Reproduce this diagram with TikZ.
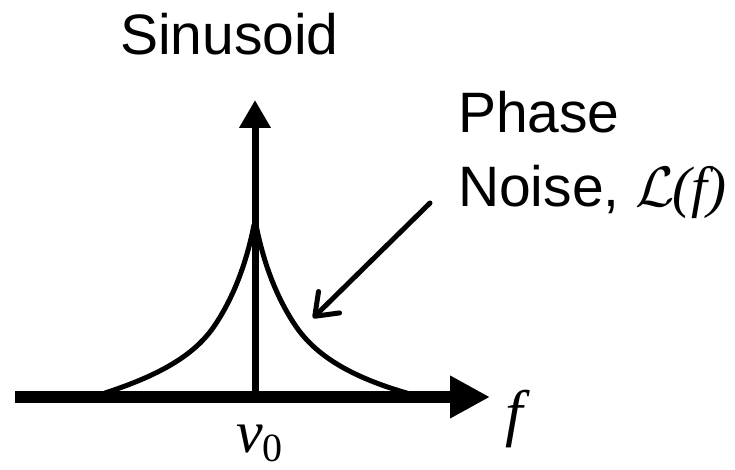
\documentclass[tikz,border=0pt]{standalone}
\usepackage{graphicx}
\usepackage{fontspec}
\setmainfont{Liberation Sans}
\newfontfamily\tms{Liberation Serif}
\usetikzlibrary{arrows.meta}
\newcommand{\calL}{\scalebox{5.7}{\fontsize{10}{12}\selectfont$\mathcal{L}$}}
\tikzset{
  lbl/.style={inner sep=0pt, outer sep=0pt, font=\fontsize{57}{68}\selectfont},
  axisline/.style={line width=12pt, -{Triangle[length=40pt,width=40pt]}},
  spikeline/.style={line width=7pt, -{Triangle[length=28pt,width=30pt]}},
  noisecurve/.style={line width=5pt, line cap=round},
  pointer/.style={line width=5pt, line cap=round, -{Straight Barb[length=20pt,width=30pt,round]}}
}
\begin{document}
\begin{tikzpicture}[x=1pt,y=-1pt]
\useasboundingbox (0,0) rectangle (735,470);
\coordinate (xstart) at (15,397);
\coordinate (xend) at (490,397);
\coordinate (vbase) at (255,397);
\coordinate (vtop) at (255,100);
\coordinate (pstart) at (430,203);
\coordinate (ptip) at (313,318);
% noise curve
\draw[noisecurve] (105,393) .. controls (160,375) and (195,355) .. (215,325)
   .. controls (235,295) and (247,260) .. (254,225);
\draw[noisecurve] (256,225) .. controls (263,260) and (275,295) .. (295,325)
   .. controls (315,355) and (350,377) .. (410,394);
% axes
\draw[axisline] (xstart) -- (xend);
\draw[spikeline] (vbase) -- (vtop);
% pointer
\draw[pointer] (pstart) -- (ptip);
% labels
\node[lbl, anchor=base west] (sin) at (120,55) {Sinusoid};
\node[lbl, anchor=base west] (phase) at (458,133) {Phase};
\node[lbl, anchor=base west] (noise) at (458,207) {Noise, \calL\kern-2pt{\tms\itshape(f)}};
\node[lbl, anchor=base west] (nu) at (236,452) {{\tms\fontsize{60}{70}\selectfont\itshape v}{\tms\fontsize{40}{48}\selectfont\raisebox{-9pt}{0}}};
\node[lbl, anchor=base west] (f) at (505,434) {\tms\fontsize{63}{70}\selectfont\itshape f};
\end{tikzpicture}
\end{document}
